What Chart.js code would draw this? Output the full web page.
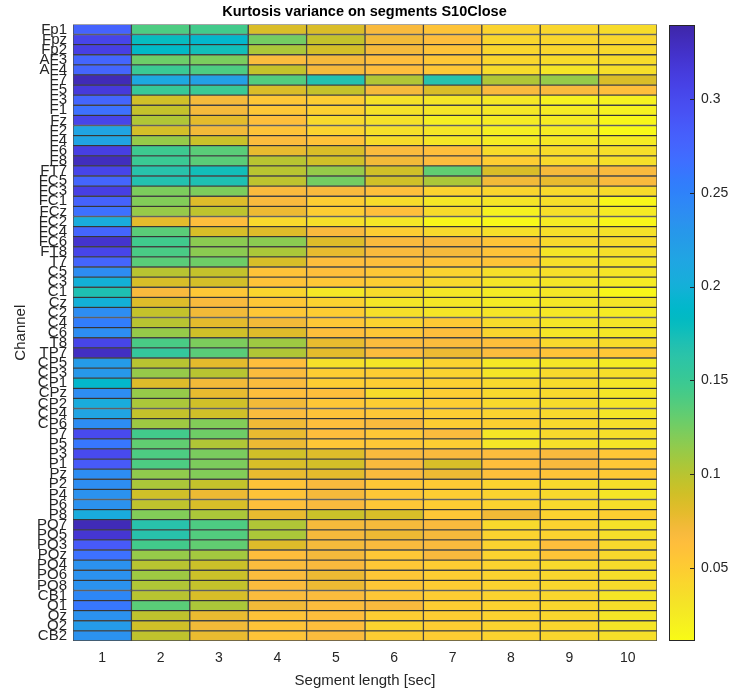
<!DOCTYPE html>
<html>
<head>
<meta charset="utf-8">
<script src="https://cdn.jsdelivr.net/npm/chart.js@4/dist/chart.umd.min.js"></script>
<style>
html,body{margin:0;padding:0;background:#fff;}
#wrap{position:relative;width:729px;height:694px;overflow:hidden;}
canvas{position:absolute;top:0;}
</style>
</head>
<body>
<div id="wrap">
<canvas id="main" width="729" height="694" style="left:0"></canvas>
<canvas id="cb" width="89" height="694" style="left:640px"></canvas>
</div>
<script>
// ---------------- data ----------------
const channels = ["Fp1","Fpz","Fp2","AF3","AF4","F7","F5","F3","F1","Fz","F2","F4","F6","F8","FT7","FC5","FC3","FC1","FCz","FC2","FC4","FC6","FT8","T7","C5","C3","C1","Cz","C2","C4","C6","T8","TP7","CP5","CP3","CP1","CPz","CP2","CP4","CP6","P7","P5","P3","P1","Pz","P2","P4","P6","P8","PO7","PO5","PO3","POz","PO4","PO6","PO8","CB1","O1","Oz","O2","CB2"];
const segmentLengths = [1,2,3,4,5,6,7,8,9,10];
const colorbarTicks = [0.05,0.1,0.15,0.2,0.25,0.3];
const VMIN = 0.0111, VMAX = 0.3394;

const seg1 = [.277,.305,.31,.275,.275,.333,.315,.275,.265,.305, .215,.215,.31,.33,.305,.275,.31,.278,.265,.205, .275,.322,.305,.275,.24,.2,.17,.2,.24,.255, .24,.305,.328,.225,.228,.19,.24,.205,.215,.24, .3,.26,.3,.285,.24,.24,.235,.235,.205,.333, .32,.285,.265,.235,.235,.235,.245,.26,.235,.225, .235];
const seg2 = [.14,.18,.185,.128,.15,.21,.152,.09,.095,.103, .088,.113,.148,.15,.165,.168,.122,.12,.113,.08, .135,.146,.142,.135,.1,.086,.068,.083,.095,.1, .113,.142,.155,.1,.113,.083,.113,.105,.095,.11, .145,.132,.14,.14,.115,.105,.09,.097,.12,.165, .165,.145,.113,.1,.11,.103,.1,.135,.097,.09, .097];
const seg3 = [.145,.19,.175,.123,.14,.22,.15,.07,.07,.08, .072,.092,.135,.135,.175,.17,.122,.083,.097,.063, .086,.117,.117,.127,.095,.088,.055,.068,.072,.08, .09,.122,.135,.08,.1,.072,.078,.09,.09,.12, .127,.103,.123,.122,.12,.095,.075,.086,.105,.14, .138,.132,.108,.092,.092,.095,.086,.105,.077,.072, .077];
const seg4 = [.085,.125,.105,.066,.095,.138,.085,.055,.055,.062, .058,.066,.078,.1,.1,.098,.068,.068,.075,.04, .083,.117,.105,.086,.058,.058,.043,.055,.055,.072, .083,.11,.103,.063,.066,.066,.063,.072,.066,.073, .077,.075,.09,.086,.078,.058,.058,.062,.078,.103, .105,.083,.063,.066,.066,.066,.066,.072,.058,.058, .058];
const seg5 = [.085,.095,.088,.07,.07,.168,.095,.05,.047,.04, .045,.058,.085,.09,.113,.125,.068,.05,.05,.035, .068,.083,.078,.063,.062,.055,.028,.045,.05,.055, .062,.078,.08,.035,.05,.05,.062,.055,.058,.063, .063,.055,.083,.088,.08,.068,.07,.068,.092,.07, .07,.07,.07,.068,.075,.075,.066,.066,.063,.063, .066];
const seg6 = [.068,.072,.07,.063,.063,.103,.07,.033,.033,.033, .035,.038,.066,.072,.09,.09,.062,.038,.062,.03, .05,.068,.068,.062,.055,.05,.038,.03,.035,.045, .055,.066,.066,.03,.05,.05,.038,.05,.055,.068, .055,.055,.068,.068,.068,.055,.055,.055,.086,.07, .075,.068,.055,.055,.055,.055,.055,.068,.05,.045, .05];
const seg7 = [.058,.063,.058,.055,.055,.165,.085,.03,.03,.022, .03,.03,.062,.066,.132,.105,.045,.028,.038,.015, .04,.068,.07,.058,.045,.04,.028,.028,.03,.053, .063,.066,.075,.045,.045,.048,.05,.05,.05,.05, .066,.05,.068,.086,.075,.053,.05,.05,.055,.068, .07,.068,.068,.05,.05,.05,.05,.05,.05,.05, .05];
const seg8 = [.045,.042,.042,.042,.038,.103,.068,.028,.028,.025, .022,.025,.038,.05,.085,.072,.043,.03,.02,.014, .035,.057,.058,.057,.035,.03,.025,.025,.03,.038, .043,.062,.066,.028,.03,.04,.04,.04,.045,.048, .03,.03,.065,.063,.062,.045,.045,.045,.073,.04, .045,.045,.045,.045,.045,.045,.045,.045,.045,.045, .045];
const seg9 = [.042,.042,.042,.038,.03,.113,.068,.02,.025,.025, .025,.028,.038,.04,.07,.078,.04,.035,.035,.025, .035,.04,.03,.035,.035,.03,.028,.028,.028,.03, .03,.04,.058,.03,.04,.038,.04,.038,.04,.04, .04,.035,.068,.068,.058,.04,.04,.04,.045,.045, .045,.063,.057,.04,.042,.042,.042,.042,.042,.042, .042];
const seg10 = [.038,.042,.04,.038,.036,.085,.062,.02,.02,.015, .013,.025,.035,.035,.068,.068,.038,.015,.025,.015, .033,.038,.035,.03,.03,.025,.015,.03,.025,.03, .028,.038,.055,.025,.035,.03,.03,.03,.03,.035, .035,.03,.055,.055,.053,.035,.03,.035,.048,.033, .035,.04,.04,.038,.035,.038,.03,.035,.03,.03, .035];
const segments = [seg1,seg2,seg3,seg4,seg5,seg6,seg7,seg8,seg9,seg10];

// ---------------- colormap (parula, reversed: high = dark blue) ----------------
const parula = [
[0.2422,0.1504,0.6603],[0.2504,0.1650,0.7076],[0.2578,0.1818,0.7511],[0.2647,0.1978,0.7952],
[0.2706,0.2147,0.8364],[0.2751,0.2342,0.8710],[0.2783,0.2559,0.8991],[0.2803,0.2782,0.9221],
[0.2813,0.3006,0.9414],[0.2810,0.3228,0.9579],[0.2795,0.3447,0.9717],[0.2760,0.3667,0.9829],
[0.2699,0.3892,0.9906],[0.2602,0.4123,0.9952],[0.2440,0.4358,0.9988],[0.2206,0.4603,0.9973],
[0.1963,0.4847,0.9892],[0.1834,0.5074,0.9798],[0.1786,0.5289,0.9682],[0.1764,0.5499,0.9520],
[0.1687,0.5703,0.9359],[0.1540,0.5902,0.9218],[0.1460,0.6091,0.9079],[0.1380,0.6276,0.8973],
[0.1248,0.6459,0.8883],[0.1113,0.6635,0.8763],[0.0952,0.6798,0.8598],[0.0689,0.6948,0.8394],
[0.0297,0.7082,0.8163],[0.0036,0.7203,0.7917],[0.0067,0.7312,0.7660],[0.0433,0.7411,0.7394],
[0.0964,0.7500,0.7120],[0.1408,0.7584,0.6842],[0.1717,0.7670,0.6554],[0.1938,0.7758,0.6251],
[0.2161,0.7843,0.5923],[0.2470,0.7918,0.5567],[0.2906,0.7973,0.5188],[0.3406,0.8008,0.4789],
[0.3909,0.8029,0.4354],[0.4456,0.8024,0.3909],[0.5044,0.7993,0.3480],[0.5616,0.7942,0.3045],
[0.6174,0.7876,0.2612],[0.6720,0.7793,0.2227],[0.7242,0.7698,0.1910],[0.7738,0.7598,0.1646],
[0.8203,0.7498,0.1535],[0.8634,0.7406,0.1596],[0.9035,0.7330,0.1774],[0.9393,0.7288,0.2100],
[0.9728,0.7298,0.2394],[0.9956,0.7434,0.2371],[0.9970,0.7659,0.2199],[0.9952,0.7893,0.2028],
[0.9892,0.8136,0.1885],[0.9786,0.8386,0.1766],[0.9676,0.8639,0.1643],[0.9610,0.8890,0.1537],
[0.9597,0.9135,0.1423],[0.9628,0.9373,0.1265],[0.9691,0.9606,0.1064],[0.9769,0.9839,0.0805]];
function rgbAt(t){
  t = Math.max(0, Math.min(1, t));
  const f = t*(parula.length-1), i = Math.min(parula.length-2, Math.floor(f)), r = f - i;
  const a = parula[i], b = parula[i+1];
  const c = [0,1,2].map(k => Math.round(255*(a[k] + (b[k]-a[k])*r)));
  return 'rgb(' + c.join(',') + ')';
}
function cmap(v){ return rgbAt((VMAX - v)/(VMAX - VMIN)); }

const FONT = "'Liberation Sans', Arial, Helvetica, sans-serif";
const TXT = '#262626';
Chart.defaults.font.family = FONT;

// ---------------- main heatmap ----------------
const datasets = segmentLengths.map((s, k) => ({
  data: channels.map(() => [s - 0.5, s + 0.5]),
  backgroundColor: segments[k].map(cmap),
  borderColor: 'rgba(30,30,30,0.8)',
  borderWidth: 1,
  borderSkipped: false,
  barPercentage: 1,
  categoryPercentage: 1,
  grouped: false
}));

new Chart(document.getElementById('main'), {
  type: 'bar',
  data: { labels: channels, datasets },
  options: {
    indexAxis: 'y',
    responsive: false,
    animation: false,
    layout: { padding: 0 },
    plugins: {
      legend: { display: false },
      tooltip: { enabled: false },
      title: {
        display: true,
        text: 'Kurtosis variance on segments S10Close',
        color: '#000',
        font: { family: FONT, size: 14.5, weight: 'bold' },
        padding: { top: 3, bottom: 4 }
      }
    },
    scales: {
      x: {
        type: 'linear', min: 0.5, max: 10.5,
        afterBuildTicks: s => { s.ticks = segmentLengths.map(v => ({ value: v })); },
        ticks: { color: TXT, font: { size: 14 }, padding: 9, callback: v => String(v), maxRotation: 0 },
        grid: { display: false, drawTicks: false },
        border: { display: false },
        title: { display: true, text: 'Segment length [sec]', color: TXT, font: { size: 15 }, padding: { top: 0, bottom: 4 } },
        afterFit: s => { s.height = 53; s.paddingLeft = 0; s.paddingRight = 0; }
      },
      y: {
        type: 'category', offset: true,
        ticks: { autoSkip: false, color: TXT, font: { size: 15 }, padding: 6 },
        grid: { display: false, drawTicks: false },
        border: { display: false },
        title: { display: true, text: 'Channel', color: TXT, font: { size: 15 }, padding: { top: 12, bottom: 0 } },
        afterFit: s => { s.width = 73; s.paddingTop = 0; s.paddingBottom = 0; }
      },
      yRightSpace: {
        type: 'category', position: 'right', offset: true,
        ticks: { display: false },
        grid: { display: false, drawTicks: false },
        border: { display: false },
        afterFit: s => { s.width = 72; s.paddingTop = 0; s.paddingBottom = 0; }
      }
    }
  }
});

// ---------------- colorbar ----------------
const cbPlugin = {
  id: 'cbGradient',
  beforeDatasetsDraw(chart) {
    const { ctx, chartArea: a, scales: { y } } = chart;
    const yTop = y.getPixelForValue(VMAX), yBot = y.getPixelForValue(VMIN);
    const g = ctx.createLinearGradient(0, yTop, 0, yBot);
    parula.forEach((c, i) => g.addColorStop(i/(parula.length-1), rgbAt(i/(parula.length-1))));
    ctx.save();
    ctx.fillStyle = g;
    ctx.fillRect(a.left, yTop, a.right - a.left, yBot - yTop);
    ctx.strokeStyle = TXT;
    ctx.lineWidth = 1;
    ctx.strokeRect(a.left + 0.5, yTop + 0.5, a.right - a.left - 1, yBot - yTop - 1);
    y.ticks.forEach(t => {
      const py = Math.round(y.getPixelForValue(t.value)) + 0.5;
      ctx.beginPath();
      ctx.moveTo(a.right - 5, py);
      ctx.lineTo(a.right, py);
      ctx.stroke();
    });
    ctx.restore();
  }
};

new Chart(document.getElementById('cb'), {
  type: 'bar',
  data: { labels: [''], datasets: [{ data: [] }] },
  plugins: [cbPlugin],
  options: {
    responsive: false,
    animation: false,
    layout: { padding: { left: 29, right: 0, top: 25, bottom: 53 } },
    plugins: { legend: { display: false }, tooltip: { enabled: false } },
    scales: {
      x: { display: false },
      y: {
        type: 'linear', position: 'right', min: VMIN, max: VMAX,
        afterBuildTicks: s => { s.ticks = colorbarTicks.map(v => ({ value: v })); },
        ticks: { color: TXT, font: { size: 14 }, padding: 6, callback: v => String(v) },
        grid: { display: false, drawTicks: false },
        border: { display: false },
        afterFit: s => { s.width = 34; s.paddingTop = 0; s.paddingBottom = 0; }
      }
    }
  }
});
</script>
</body>
</html>
